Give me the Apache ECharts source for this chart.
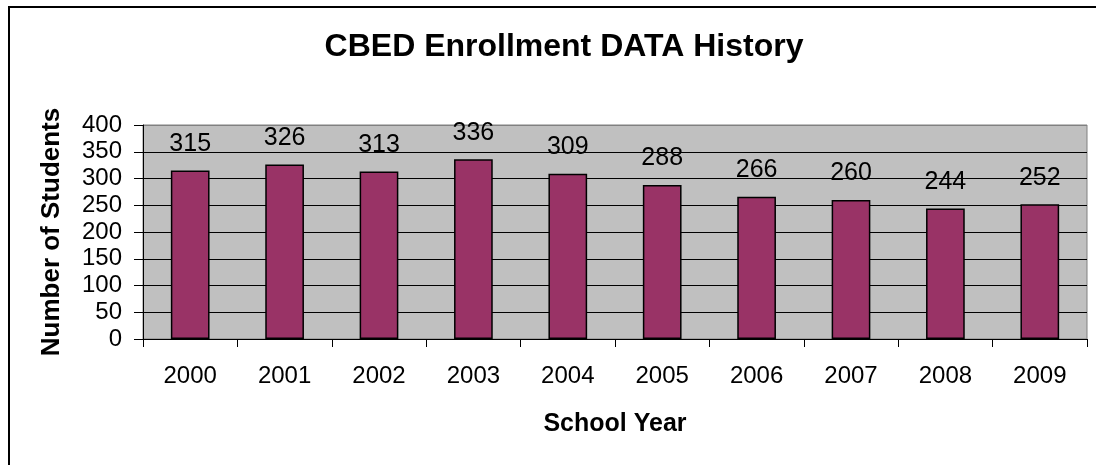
<!DOCTYPE html>
<html>
<head>
<meta charset="utf-8">
<script src="https://cdn.jsdelivr.net/npm/echarts@6/dist/echarts.min.js"></script>
<style>
html,body{margin:0;padding:0;background:#fff;}
#chart{width:1096px;height:465px;}
</style>
</head>
<body>
<div id="chart"></div>
<script>
const years = ['2000','2001','2002','2003','2004','2005','2006','2007','2008','2009'];
const enrollment = [315, 326, 313, 336, 309, 288, 266, 260, 244, 252];
const yTicks = {min: 0, max: 400, interval: 50};
const titleText = 'CBED Enrollment DATA History';
const xName = 'School Year';
const yName = 'Number of Students';

const FONT = '"Liberation Sans", Arial, sans-serif';
const chart = echarts.init(document.getElementById('chart'), null, {renderer: 'canvas'});
chart.setOption({
  animation: false,
  backgroundColor: '#ffffff',
  title: {
    text: titleText,
    left: 559,
    top: 26,
    textAlign: 'center',
    textStyle: {fontFamily: FONT, fontSize: 32, fontWeight: 'bold', color: '#000'}
  },
  graphic: [{
    type: 'rect',
    shape: {x: 9, y: 7, width: 1200, height: 600},
    style: {fill: 'none', stroke: '#000', lineWidth: 2},
    silent: true,
    z: 100
  }],
  grid: {
    left: 143, top: 125, right: 9, bottom: 126,
    show: true,
    backgroundColor: '#C0C0C0',
    borderColor: '#808080',
    borderWidth: 1,
    containLabel: false
  },
  xAxis: {
    type: 'category',
    data: years,
    name: xName,
    nameLocation: 'middle',
    nameGap: 73,
    nameTextStyle: {fontFamily: FONT, fontSize: 25, fontWeight: 'bold', color: '#000'},
    axisLine: {show: true, lineStyle: {color: '#000', width: 1}},
    axisTick: {show: true, length: 8, lineStyle: {color: '#000'}},
    axisLabel: {fontFamily: FONT, fontSize: 24, color: '#000', margin: 25},
    splitLine: {show: false}
  },
  yAxis: {
    type: 'value',
    min: yTicks.min, max: yTicks.max, interval: yTicks.interval,
    name: yName,
    nameLocation: 'middle',
    nameGap: 78,
    nameRotate: 90,
    nameTextStyle: {fontFamily: FONT, fontSize: 26, fontWeight: 'bold', color: '#000'},
    axisLine: {show: true, lineStyle: {color: '#000', width: 1}},
    axisTick: {show: true, length: 9, lineStyle: {color: '#000'}},
    axisLabel: {fontFamily: FONT, fontSize: 24, color: '#000', margin: 21},
    splitLine: {show: true, lineStyle: {color: ['#000','#000','#000','#000','#000','#000','#000','#000','#808080'], width: 1}}
  },
  series: [{
    type: 'bar',
    data: enrollment,
    barWidth: '41%',
    itemStyle: {color: '#993366', borderColor: '#000', borderWidth: 1.5},
    label: {
      show: true,
      position: 'top',
      distance: 14,
      fontFamily: FONT,
      fontSize: 25,
      color: '#000'
    }
  }]
});
</script>
</body>
</html>
